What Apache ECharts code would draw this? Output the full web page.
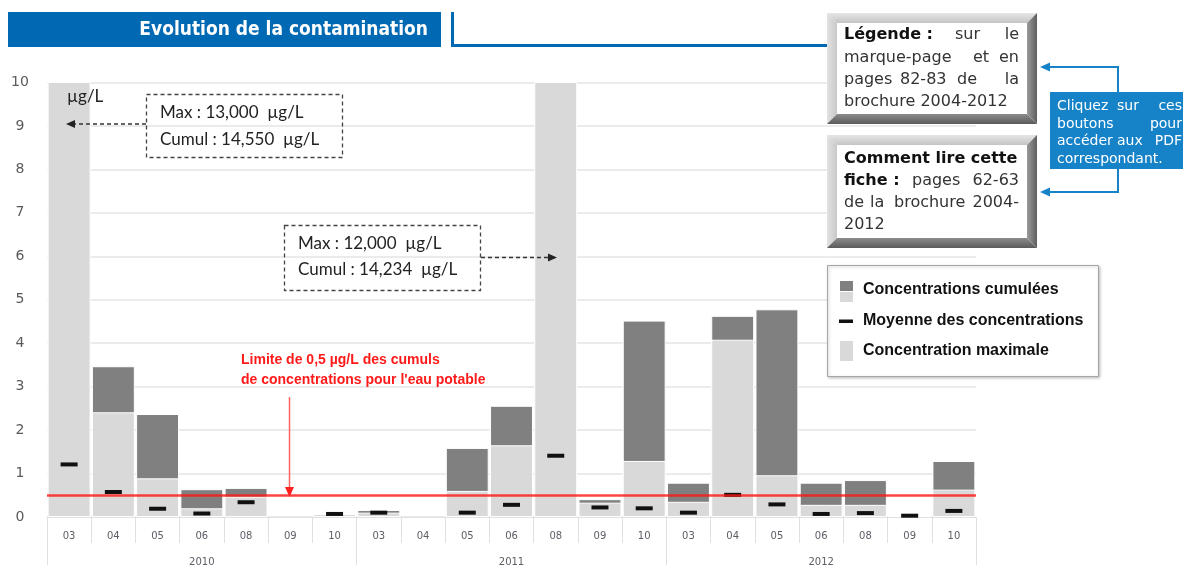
<!DOCTYPE html>
<html>
<head>
<meta charset="utf-8">
<script src="https://cdn.jsdelivr.net/npm/echarts@6/dist/echarts.min.js"></script>
<style>
  html, body { margin: 0; padding: 0; background: #fff; }
  #chart { width: 1183px; height: 567px; }
</style>
</head>
<body>
<div id="chart"></div>
<script>
// Sampling campaigns (month) grouped by year
const months = ['03', '04', '05', '06', '08', '09', '10',
                '03', '04', '05', '06', '08', '09', '10',
                '03', '04', '05', '06', '08', '09', '10'];
const years = ['2010', '2011', '2012'];

// Concentrations in µg/L (null = nothing detected)
const maxConc   = [13, 2.41, 0.89, 0.20, 0.47, null, 0.07,
                   0.10, null, 0.60, 1.65, 12, 0.33, 1.29,
                   0.35, 4.08, 0.96, 0.28, 0.28, 0.03, 0.63];
const cumulConc = [14.55, 3.47, 2.37, 0.64, 0.67, null, 0.07,
                   0.16, null, 1.59, 2.56, 14.234, 0.41, 4.52,
                   0.79, 4.63, 4.78, 0.79, 0.85, 0.03, 1.29];
const meanConc  = [1.21, 0.575, 0.19, 0.08, 0.34, null, 0.07,
                   0.10, null, 0.10, 0.28, 1.41, 0.22, 0.20,
                   0.10, 0.51, 0.29, 0.07, 0.09, 0.03, 0.14];

// Drinking-water limit for cumulated concentrations
const limitValue = 0.5;

const DARK = '#808080';
const LIGHT = '#d9d9d9';
const BLUE = '#0069b4';
const BTN_BLUE = '#1683c9';

const chart = echarts.init(document.getElementById('chart'), null, { renderer: 'canvas' });

function txt(text, x, y, font, fill, align) {
  return {
    type: 'text', silent: true, z: 20,
    style: { text: text, x: x, y: y, font: font, fill: fill || '#222',
             align: align || 'left', verticalAlign: 'middle' }
  };
}

function tri(points, fill) {
  return { type: 'polygon', silent: true, z: 20, shape: { points: points }, style: { fill: fill } };
}

// Bevelled "button" box
function bevelBox(x, y, w, h, t) {
  return [
    { type: 'polygon', silent: true, z: 15,
      shape: { points: [[x, y], [x + w, y], [x + w - t, y + t], [x + t, y + t]] },
      style: { fill: new echarts.graphic.LinearGradient(0, 0, 0, 1, [{ offset: 0, color: '#e6e6e6' }, { offset: 1, color: '#c4c4c4' }]) } },
    { type: 'polygon', silent: true, z: 15,
      shape: { points: [[x, y], [x + t, y + t], [x + t, y + h - t], [x, y + h]] },
      style: { fill: new echarts.graphic.LinearGradient(0, 0, 1, 0, [{ offset: 0, color: '#e2e2e2' }, { offset: 1, color: '#c8c8c8' }]) } },
    { type: 'polygon', silent: true, z: 15,
      shape: { points: [[x + w, y], [x + w, y + h], [x + w - t, y + h - t], [x + w - t, y + t]] },
      style: { fill: new echarts.graphic.LinearGradient(0, 0, 1, 0, [{ offset: 0, color: '#9a9a9a' }, { offset: 1, color: '#5e5e5e' }]) } },
    { type: 'polygon', silent: true, z: 15,
      shape: { points: [[x, y + h], [x + w, y + h], [x + w - t, y + h - t], [x + t, y + h - t]] },
      style: { fill: new echarts.graphic.LinearGradient(0, 0, 0, 1, [{ offset: 0, color: '#8c8c8c' }, { offset: 1, color: '#5a5a5a' }]) } },
    { type: 'rect', silent: true, z: 15,
      shape: { x: x + t, y: y + t, width: w - 2 * t, height: h - 2 * t },
      style: { fill: '#fff' } }
  ];
}

const boxFont = '16px "DejaVu Sans"';
const boxBold = 'bold 16px "DejaVu Sans"';
const annFont = '17px Lato';
const legFont = 'bold 16px "Liberation Sans"';
const btnFont = '14px "DejaVu Sans"';

const graphics = [
  // Section banner
  { type: 'rect', silent: true, z: 10, shape: { x: 8, y: 12, width: 433, height: 35 }, style: { fill: BLUE } },
  txt('Evolution de la contamination', 428, 30, 'bold 19px "DejaVu Sans Condensed", "DejaVu Sans"', '#fff', 'right'),
  { type: 'polyline', silent: true, z: 10, shape: { points: [[452.5, 12], [452.5, 45.5], [830, 45.5]] },
    style: { stroke: BLUE, lineWidth: 3, fill: null } },

  ...bevelBox(827, 13, 210, 111, 10),
  txt('Légende :', 844, 35, boxBold, '#111'),
  txt('sur', 955, 35, boxFont, '#333'),
  txt('le', 1019, 35, boxFont, '#333', 'right'),
  txt('marque-page', 844, 58, boxFont, '#333'),
  txt('et', 973, 58, boxFont, '#333'),
  txt('en', 1019, 58, boxFont, '#333', 'right'),
  txt('pages', 844, 80, boxFont, '#333'),
  txt('82-83', 900, 80, boxFont, '#333'),
  txt('de', 957, 80, boxFont, '#333'),
  txt('la', 1019, 80, boxFont, '#333', 'right'),
  txt('brochure 2004-2012', 844, 102, boxFont, '#333'),

  ...bevelBox(827, 135, 210, 113, 10),
  txt('Comment lire cette', 844, 159, boxBold, '#111'),
  txt('fiche :', 844, 181, boxBold, '#111'),
  txt('pages', 912, 181, boxFont, '#333'),
  txt('62-63', 1019, 181, boxFont, '#333', 'right'),
  txt('de', 844, 203, boxFont, '#333'),
  txt('la', 870, 203, boxFont, '#333'),
  txt('brochure', 894, 203, boxFont, '#333'),
  txt('2004-', 1019, 203, boxFont, '#333', 'right'),
  txt('2012', 844, 225, boxFont, '#333'),

  // Help button
  { type: 'rect', silent: true, z: 15, shape: { x: 1050, y: 92, width: 140, height: 77 }, style: { fill: BTN_BLUE } },
  txt('Cliquez', 1057, 106, btnFont, '#fff'),
  txt('sur', 1117, 106, btnFont, '#fff'),
  txt('ces', 1182, 106, btnFont, '#fff', 'right'),
  txt('boutons', 1057, 124, btnFont, '#fff'),
  txt('pour', 1182, 124, btnFont, '#fff', 'right'),
  txt('accéder', 1057, 141, btnFont, '#fff'),
  txt('aux', 1117, 141, btnFont, '#fff'),
  txt('PDF', 1182, 141, btnFont, '#fff', 'right'),
  txt('correspondant.', 1057, 159, btnFont, '#fff'),
  { type: 'polyline', silent: true, z: 15, shape: { points: [[1118, 92], [1118, 67], [1048, 67]] }, style: { stroke: BTN_BLUE, lineWidth: 2, fill: null } },
  tri([[1040, 67], [1050, 62.5], [1050, 71.5]], BTN_BLUE),
  { type: 'polyline', silent: true, z: 15, shape: { points: [[1118, 169], [1118, 192], [1048, 192]] }, style: { stroke: BTN_BLUE, lineWidth: 2, fill: null } },
  tri([[1040, 192], [1050, 187.5], [1050, 196.5]], BTN_BLUE),

  // Unit
  txt('µg/L', 67, 97, annFont, '#222'),

  // Off-scale value notes
  { type: 'rect', silent: true, z: 20, shape: { x: 146.5, y: 94.5, width: 196, height: 63 },
    style: { fill: 'rgba(255,255,255,0)', stroke: '#444', lineWidth: 1.3, lineDash: [4, 3] } },
  txt('Max : 13,000  µg/L', 160, 113, annFont, '#222'),
  txt('Cumul : 14,550  µg/L', 160, 140, annFont, '#222'),
  { type: 'line', silent: true, z: 20, shape: { x1: 146, y1: 124, x2: 74, y2: 124 }, style: { stroke: '#333', lineWidth: 1.3, lineDash: [4, 3] } },
  tri([[66, 124], [75, 120], [75, 128]], '#222'),

  { type: 'rect', silent: true, z: 20, shape: { x: 284.5, y: 225.5, width: 196, height: 65 },
    style: { fill: 'rgba(255,255,255,0)', stroke: '#444', lineWidth: 1.3, lineDash: [4, 3] } },
  txt('Max : 12,000  µg/L', 298, 243.5, annFont, '#222'),
  txt('Cumul : 14,234  µg/L', 298, 270, annFont, '#222'),
  { type: 'line', silent: true, z: 20, shape: { x1: 481, y1: 257.5, x2: 548, y2: 257.5 }, style: { stroke: '#333', lineWidth: 1.3, lineDash: [4, 3] } },
  tri([[557, 257.5], [548, 253.5], [548, 261.5]], '#222'),

  // Drinking-water limit note
  txt('Limite de 0,5 µg/L des cumuls', 241, 360.5, 'bold 14px "Liberation Sans"', '#ff1a1a'),
  txt("de concentrations pour l'eau potable", 241, 380, 'bold 14px "Liberation Sans"', '#ff1a1a'),
  { type: 'line', silent: true, z: 20, shape: { x1: 289.5, y1: 397, x2: 289.5, y2: 489 }, style: { stroke: '#ff6464', lineWidth: 1.5 } },
  tri([[289.5, 497], [285, 487], [294, 487]], '#ff2020'),

  // Legend
  { type: 'rect', silent: true, z: 20, shape: { x: 827.5, y: 265.5, width: 271, height: 111 },
    style: { fill: '#fff', stroke: '#a6a6a6', lineWidth: 1, shadowColor: 'rgba(0,0,0,0.25)', shadowBlur: 3, shadowOffsetX: 1, shadowOffsetY: 1 } },
  { type: 'rect', silent: true, z: 21, shape: { x: 840, y: 281, width: 13, height: 10 }, style: { fill: DARK } },
  { type: 'rect', silent: true, z: 21, shape: { x: 840, y: 292, width: 13, height: 10 }, style: { fill: LIGHT } },
  { type: 'rect', silent: true, z: 21, shape: { x: 839, y: 319.5, width: 14, height: 3.5 }, style: { fill: '#111' } },
  { type: 'rect', silent: true, z: 21, shape: { x: 840, y: 341, width: 13, height: 20 }, style: { fill: LIGHT } },
  txt('Concentrations cumulées', 863, 290, legFont, '#111'),
  txt('Moyenne des concentrations', 863, 321, legFont, '#111'),
  txt('Concentration maximale', 863, 351, legFont, '#111')
];

const option = {
  animation: false,
  backgroundColor: '#fff',
  grid: { left: 47, right: 207, top: 82.5, bottom: 46.5, containLabel: false },
  xAxis: [
    {
      type: 'category',
      data: months,
      position: 'bottom',
      axisLine: { show: true, lineStyle: { color: '#e0e0e0', width: 1 } },
      axisTick: { show: true, interval: 0, length: 26, lineStyle: { color: '#e0e0e0', width: 1 } },
      axisLabel: { interval: 0, margin: 14, fontSize: 10, fontFamily: 'DejaVu Sans', color: '#5d5d66' },
      splitLine: { show: false }
    },
    {
      type: 'category',
      data: years,
      position: 'bottom',
      axisLine: { show: false },
      axisTick: { show: true, interval: 0, length: 48, lineStyle: { color: '#e0e0e0', width: 1 } },
      axisLabel: { interval: 0, margin: 40, fontSize: 10, fontFamily: 'DejaVu Sans', color: '#5d5d66' },
      splitLine: { show: false }
    }
  ],
  yAxis: {
    type: 'value',
    min: 0, max: 10, interval: 1,
    axisLine: { show: false },
    axisTick: { show: false },
    axisLabel: { margin: 27, align: 'center', fontSize: 14, fontFamily: 'DejaVu Sans', color: '#5a5a5a' },
    splitLine: { show: true, lineStyle: { color: '#e4e4e4', width: 1.5 } }
  },
  series: [
    {
      name: 'Concentrations cumulées',
      type: 'bar',
      xAxisIndex: 0,
      data: cumulConc,
      barCategoryGap: '3%',
      barGap: '-100%',
      itemStyle: { color: DARK, borderColor: '#fff', borderWidth: 1 },
      z: 2
    },
    {
      name: 'Concentration maximale',
      type: 'bar',
      xAxisIndex: 0,
      data: maxConc,
      barCategoryGap: '3%',
      barGap: '-100%',
      itemStyle: { color: LIGHT, borderColor: '#fff', borderWidth: 1 },
      z: 2
    },
    {
      name: 'Moyenne des concentrations',
      type: 'scatter',
      xAxisIndex: 0,
      data: meanConc,
      symbol: 'rect',
      symbolSize: [17, 4],
      itemStyle: { color: '#111', opacity: 1 },
      z: 4
    },
    {
      name: 'Limite',
      type: 'line',
      xAxisIndex: 0,
      data: months.map(() => null),
      symbol: 'none',
      z: 6,
      markLine: {
        silent: true,
        symbol: ['none', 'none'],
        label: { show: false },
        lineStyle: { color: 'rgba(255,20,20,0.8)', width: 2.5, type: 'solid' },
        data: [{ yAxis: limitValue }]
      }
    }
  ],
  graphic: graphics
};

chart.setOption(option);
</script>
</body>
</html>
